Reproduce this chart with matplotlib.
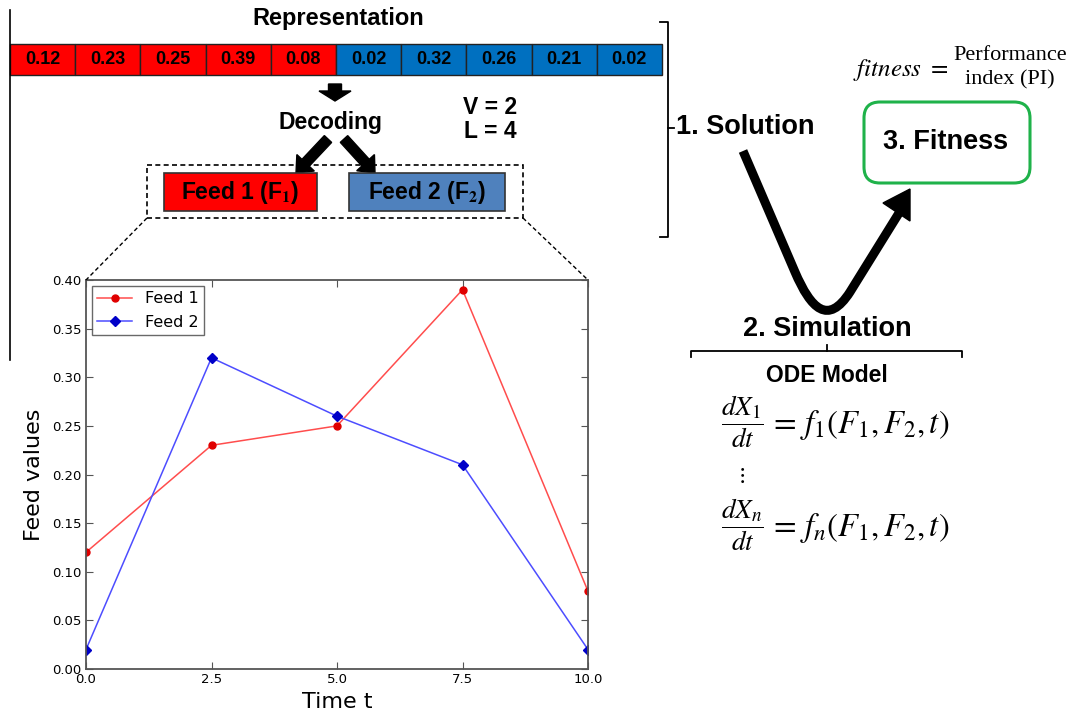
import numpy as np
import matplotlib.pyplot as plt
import matplotlib.patches as mpatches
from matplotlib.path import Path

# encoded solution vector (first half -> feed 1, second half -> feed 2)
genes = [0.12, 0.23, 0.25, 0.39, 0.08, 0.02, 0.32, 0.26, 0.21, 0.02]
time_t = [0.0, 2.5, 5.0, 7.5, 10.0]
feed1 = [0.12, 0.23, 0.25, 0.39, 0.08]
feed2 = [0.02, 0.32, 0.26, 0.21, 0.02]
x_ticks = [0.0, 2.5, 5.0, 7.5, 10.0]
y_ticks = [0.00, 0.05, 0.10, 0.15, 0.20, 0.25, 0.30, 0.35, 0.40]

plt.rcParams['mathtext.fontset'] = 'stix'
W, H = 1072, 718
fig = plt.figure(figsize=(W / 100, H / 100), dpi=100)

# ---- line plot of the decoded feeds
ax = fig.add_axes([86 / W, 1 - 669 / H, (588 - 86) / W, (669 - 280) / H])
ax.plot(time_t, feed1, '-', color='#ff4d4d', lw=1.1)
ax.plot(time_t, feed1, 'o', color='#e00000', ms=5)
ax.plot(time_t, feed2, '-', color='#4d4dff', lw=1.1)
ax.plot(time_t, feed2, 'D', color='#0000c8', ms=5)
h1, = ax.plot([], [], '-o', color='#ff4d4d', mfc='#e00000', mec='#e00000', ms=5, lw=1.1)
h2, = ax.plot([], [], '-D', color='#4d4dff', mfc='#0000c8', mec='#0000c8', ms=5, lw=1.1)
leg = ax.legend([h1, h2], ['Feed 1', 'Feed 2'], loc='upper left', fontsize=11.5,
                fancybox=False, edgecolor='#444444', borderpad=0.3, handlelength=2.2,
                labelspacing=0.55, borderaxespad=0.4)
leg.get_frame().set_linewidth(1.0)
ax.set_xlim(0, 10)
ax.set_ylim(0, 0.40)
ax.set_xticks(x_ticks)
ax.set_yticks(y_ticks)
ax.set_xticklabels([f'{v:.1f}' for v in x_ticks])
ax.set_yticklabels([f'{v:.2f}' for v in y_ticks])
ax.tick_params(direction='in', top=True, right=True, labelsize=9.5, length=5,
               color='#555555', pad=3)
for s in ax.spines.values():
    s.set_color('#555555')
    s.set_linewidth(1.3)
ax.set_xlabel('Time t', fontsize=16, labelpad=4)
ax.set_ylabel('Feed values', fontsize=16, labelpad=6)

# ---- diagram overlay in pixel coordinates
ov = fig.add_axes([0, 0, 1, 1], zorder=3)
ov.set_xlim(0, W)
ov.set_ylim(H, 0)
ov.axis('off')
ov.patch.set_alpha(0)

bold = dict(fontweight='bold', family='Liberation Sans', ha='center', va='center')

ov.plot([10, 10], [10, 360], color='k', lw=1.2)
ov.text(338, 18, 'Representation', fontsize=17, **bold)

cell_w = (662 - 10) / len(genes)
for i, g in enumerate(genes):
    fc = '#ff0000' if i < 5 else '#0070c0'
    ov.add_patch(mpatches.Rectangle((10 + i * cell_w, 44), cell_w, 31, fc=fc, ec='#222222', lw=1))
    ov.text(10 + (i + 0.5) * cell_w, 60, f'{g:.2f}', fontsize=13, **bold)

# block arrows
ov.add_patch(mpatches.FancyArrow(335, 84, 0, 17, width=13, head_width=32, head_length=10,
                                 length_includes_head=True, color='k'))
ov.text(331, 122, 'Decoding', fontsize=16.5, **bold)
ov.add_patch(mpatches.FancyArrow(328, 139, -32, 34, width=10, head_width=24, head_length=14,
                                 length_includes_head=True, color='k'))
ov.add_patch(mpatches.FancyArrow(344, 139, 31, 34, width=10, head_width=24, head_length=14,
                                 length_includes_head=True, color='k'))
ov.text(490, 107, 'V = 2', fontsize=16.5, **bold)
ov.text(490, 132, 'L = 4', fontsize=16.5, **bold)

# feed boxes
ov.add_patch(mpatches.Rectangle((147, 165), 523 - 147, 218 - 165, fill=False, ec='k', lw=1.2, ls=(0, (3, 2))))
ov.add_patch(mpatches.Rectangle((164, 173), 317 - 164, 38, fc='#ff0000', ec='#333333', lw=1.2))
ov.add_patch(mpatches.Rectangle((349, 173), 505 - 349, 38, fc='#4f81bd', ec='#333333', lw=1.2))
ov.text(240, 192, r'Feed 1 (F$_\mathbf{1}$)', fontsize=16.5, **bold)
ov.text(427, 192, r'Feed 2 (F$_\mathbf{2}$)', fontsize=16.5, **bold)
ov.plot([147, 86], [218, 280], color='k', lw=1, ls=(0, (3, 2)))
ov.plot([523, 588], [218, 280], color='k', lw=1, ls=(0, (3, 2)))

# solution bracket
ov.plot([660, 668, 668, 660], [22, 22, 237, 237], color='k', lw=1.3)
ov.plot([668, 674], [128, 128], color='k', lw=1.3)
ov.text(676, 127, '1. Solution', fontsize=19.5, fontweight='bold', family='Liberation Sans',
        ha='left', va='center')

# fitness
ov.text(853, 70, r'$fitness\ =$', fontsize=18, ha='left', va='center')
ov.text(1010, 68, 'Performance\nindex (PI)', fontsize=16, family='Liberation Serif',
        ha='center', va='center', linespacing=1.35)
ov.add_patch(mpatches.FancyBboxPatch((877, 115), 140, 55, boxstyle='round,pad=13,rounding_size=16',
                                     fill=False, ec='#1fb24a', lw=2.2))
ov.text(946, 142, '3. Fitness', fontsize=19.5, **bold)

# curved arrow solution -> simulation -> fitness
verts = [(743, 151), (795, 272), (811, 309), (828, 326), (850, 292), (899, 213)]
codes = [Path.MOVETO, Path.LINETO, Path.CURVE4, Path.CURVE4, Path.CURVE4, Path.LINETO]
ov.add_patch(mpatches.PathPatch(Path(verts, codes), fill=False, lw=6.5, ec='k',
                                capstyle='butt', joinstyle='round'))
ov.add_patch(mpatches.Polygon([(910, 189), (910, 221), (883, 203)], closed=True, fc='k', ec='k', lw=1))

ov.text(827, 329, '2. Simulation', fontsize=19.5, **bold)
# curly brace under simulation
ov.plot([691, 691], [357, 352], color='k', lw=1.3)
ov.plot([962, 962], [357, 352], color='k', lw=1.3)
ov.plot([691, 962], [351, 351], color='k', lw=1.3, solid_capstyle='round')
ov.plot([827, 827], [351, 345], color='k', lw=1.3)

ov.text(827, 376, 'ODE Model', fontsize=16.5, **bold)
ov.text(742, 422, r'$\dfrac{dX_1}{dt}$', fontsize=19.5, ha='center', va='center')
ov.text(769, 425, r'$=\, f_1(F_1,F_2,t)$', fontsize=23.5, ha='left', va='center')
ov.text(741, 475, r'$\vdots$', fontsize=16, ha='center', va='center')
ov.text(742, 525, r'$\dfrac{dX_n}{dt}$', fontsize=19.5, ha='center', va='center')
ov.text(769, 528, r'$=\, f_n(F_1,F_2,t)$', fontsize=23.5, ha='left', va='center')

fig.savefig('out.png', dpi=100)
